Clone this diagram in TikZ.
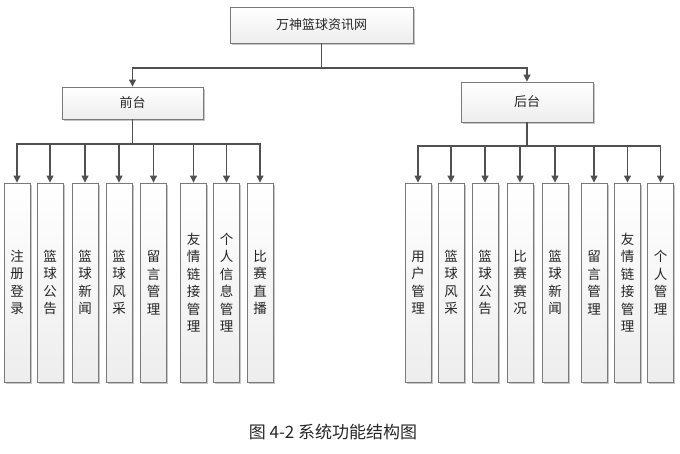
\documentclass[tikz,border=0pt]{standalone}
\usepackage{fontspec}
\setmainfont{Noto Sans CJK SC}
\usetikzlibrary{arrows.meta,shadows}
\definecolor{linec}{HTML}{505050}
\definecolor{boxline}{HTML}{7A7A7A}
\tikzset{
  box/.style={draw=boxline, line width=0.9pt, top color=white, bottom color=gray!14,
    drop shadow={shadow xshift=1.5pt, shadow yshift=-1.5pt, opacity=0.45, fill=gray},
    inner sep=0pt, font=\fontsize{13}{15}\selectfont, text=black!85},
  leaf/.style={box, minimum width=26pt, minimum height=199pt, align=center,
    font=\fontsize{13.5}{17.5}\selectfont},
  conn/.style={draw=linec, line width=1.1pt},
  arr/.style={conn, -{Triangle[width=7pt,length=7pt]}},
}
\begin{document}
\begin{tikzpicture}[x=1pt,y=-1pt]
\useasboundingbox (0,0) rectangle (680,453);
% top
\node[box, minimum width=183pt, minimum height=36pt] (top) at (321.5,25) {万神篮球资讯网};
\node[box, minimum width=141pt, minimum height=32pt] (qt) at (132.5,103) {前台};
\node[box, minimum width=132pt, minimum height=40pt] (ht) at (527,102) {后台};
\coordinate (j1) at (321.5,68);
\draw[conn] (top) -- (j1);
\draw[arr] (j1) -| (qt);
\draw[arr] (j1) -| (ht);
% front leaves
\node[leaf] (a1) at (17,282.5) {注\\册\\登\\录};
\node[leaf] (a2) at (50,282.5) {篮\\球\\公\\告};
\node[leaf] (a3) at (85,282.5) {篮\\球\\新\\闻};
\node[leaf] (a4) at (119,282.5) {篮\\球\\风\\采};
\node[leaf] (a5) at (153.5,282.5) {留\\言\\管\\理};
\node[leaf] (a6) at (193.5,282.5) {友\\情\\链\\接\\管\\理};
\node[leaf] (a7) at (226.5,282.5) {个\\人\\信\\息\\管\\理};
\node[leaf] (a8) at (260,282.5) {比\\赛\\直\\播};
\coordinate (j2) at (132.5,144);
\draw[conn] (qt) -- (j2);
\foreach \n in {a1,a2,a3,a4,a5,a6,a7,a8} \draw[arr] (j2) -| (\n);
% back leaves
\node[leaf] (b1) at (418,282.5) {用\\户\\管\\理};
\node[leaf] (b2) at (451,282.5) {篮\\球\\风\\采};
\node[leaf] (b3) at (485,282.5) {篮\\球\\公\\告};
\node[leaf] (b4) at (520,282.5) {比\\赛\\赛\\况};
\node[leaf] (b5) at (555,282.5) {篮\\球\\新\\闻};
\node[leaf] (b6) at (594,282.5) {留\\言\\管\\理};
\node[leaf] (b7) at (627.5,282.5) {友\\情\\链\\接\\管\\理};
\node[leaf] (b8) at (660.5,282.5) {个\\人\\管\\理};
\coordinate (j3) at (527,146);
\draw[conn] (ht) -- (j3);
\foreach \n in {b1,b2,b3,b4,b5,b6,b7,b8} \draw[arr] (j3) -| (\n);
% caption
\node[font=\fontsize{17}{19}\selectfont, text=black!85] (cap) at (333,432) {图 4-2 系统功能结构图};
\end{tikzpicture}
\end{document}
